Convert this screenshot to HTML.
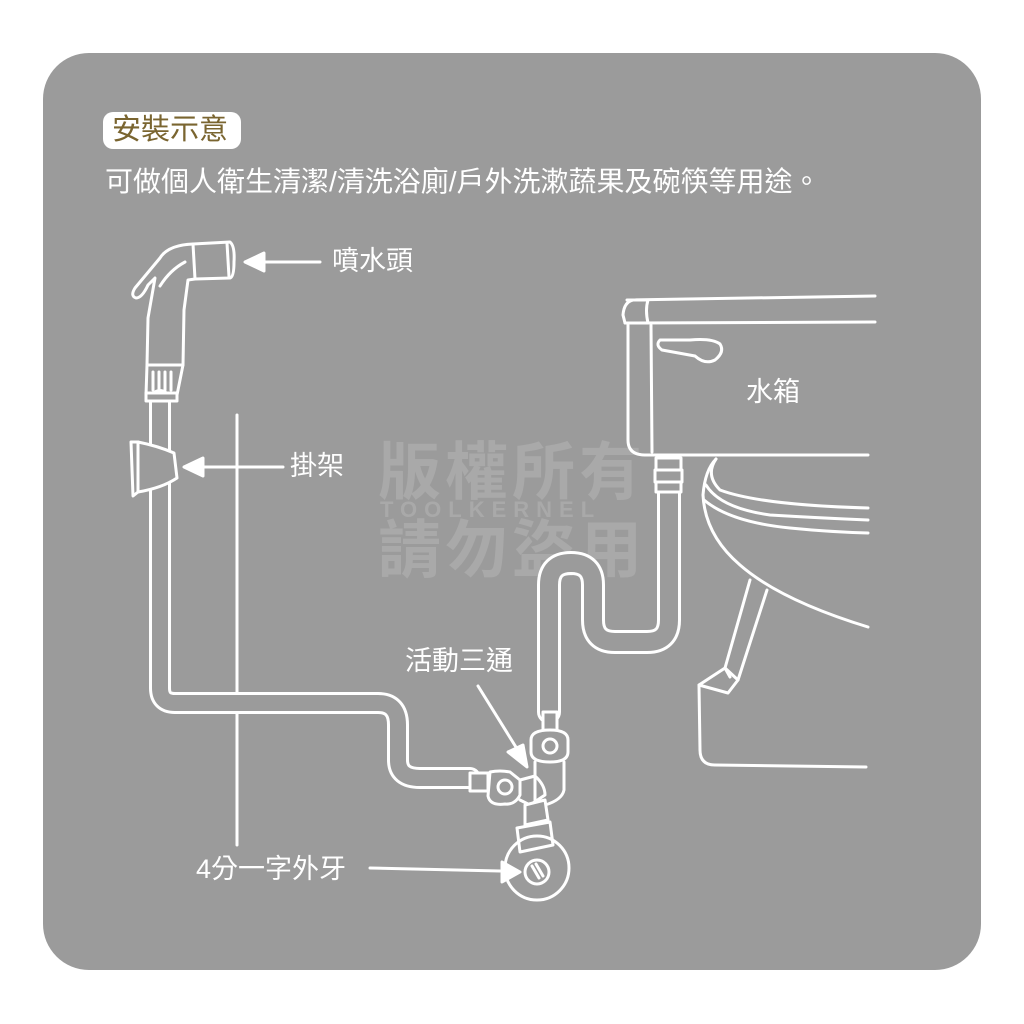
<!DOCTYPE html>
<html><head><meta charset="utf-8"><style>
html,body{margin:0;padding:0;background:#fff;}
body{width:1024px;height:1024px;position:relative;overflow:hidden;font-family:"Liberation Sans","Noto Sans CJK TC",sans-serif;}
.bg{position:absolute;left:43px;top:53px;width:938px;height:917px;border-radius:46px;background:#9b9b9b;}
.t{position:absolute;white-space:nowrap;color:#fff;}
</style></head><body>
<div class="bg"></div>
<div style="position:absolute;left:103px;top:112px;width:138px;height:37px;border-radius:10px;background:#fff;"></div>
<div class="t" style="left:112px;top:112px;font-size:29px;color:#7a6530;line-height:36px;">安裝示意</div>
<div class="t" style="left:105px;top:164px;font-size:28px;line-height:36px;">可做個人衛生清潔/清洗浴廁/戶外洗漱蔬果及碗筷等用途。</div>
<div class="t" style="left:378px;top:440px;font-size:63px;font-weight:bold;color:#a9a9a9;letter-spacing:4px;line-height:66px;">版權所有</div>
<div class="t" style="left:380px;top:498px;font-size:22px;font-weight:bold;color:#a9a9a9;letter-spacing:7px;line-height:24px;">TOOLKERNEL</div>
<div class="t" style="left:378px;top:518px;font-size:63px;font-weight:bold;color:#a9a9a9;letter-spacing:4px;line-height:66px;">請勿盜用</div>
<svg width="1024" height="1024" style="position:absolute;left:0;top:0" fill="none" stroke="#fff" stroke-width="3" stroke-linecap="round" stroke-linejoin="round">
<line x1="237" y1="415" x2="237" y2="845"/>
<path d="M160 400 L160 688 Q160 703 175 703 L378 703 Q398 703 398 725 L398 760 Q398 778 420 778 L470 778" stroke-width="22"/>
<path d="M160 400 L160 688 Q160 703 175 703 L378 703 Q398 703 398 725 L398 760 Q398 778 420 778 L470 778" stroke="#9b9b9b" stroke-width="16"/>
<path d="M549 712 L549 585 Q549 563 571 563 Q593 563 593 585 L593 620 Q593 642 615 642 L647 642 Q669 642 669 620 L669 490" stroke-width="24"/>
<path d="M549 712 L549 585 Q549 563 571 563 Q593 563 593 585 L593 620 Q593 642 615 642 L647 642 Q669 642 669 620 L669 490" stroke="#9b9b9b" stroke-width="18"/>
<rect x="656" y="458" width="25" height="12" fill="#9b9b9b"/>
<rect x="655" y="470" width="27" height="12" fill="#9b9b9b"/>
<rect x="656" y="482" width="25" height="10" fill="#9b9b9b"/>
<path d="M193 244 L230 242 Q235 246 234 262 Q234 277 230 278 L195 279"/>
<line x1="227" y1="243" x2="229" y2="277"/>
<path d="M193 244 Q168 245 160 258 L135 288 Q130 296 136 298 Q142 298 148 285 L155 278 L148 318 L147 365 L183 365 L184 310 L188 280 L195 279 Z"/>
<path d="M160 286 Q170 270 185 262"/>
<path d="M147 365 L146 395 L177 395 L183 365"/>
<line x1="153" y1="372" x2="153" y2="390"/><line x1="159" y1="372" x2="159" y2="390"/><line x1="165" y1="372" x2="165" y2="390"/><line x1="171" y1="372" x2="171" y2="390"/>
<rect x="146" y="393" width="31" height="8" fill="#9b9b9b"/>
<path d="M131 442 L138 442 Q158 446 174 453 L177 478 Q162 488 138 492 L133 496 Z" fill="#9b9b9b"/>
<line x1="138" y1="442" x2="138" y2="492"/>
<line x1="262" y1="262" x2="320" y2="262"/><path d="M245 262 L264 253 L264 271 Z" fill="#fff"/>
<line x1="200" y1="467" x2="283" y2="467"/><path d="M184 467 L203 458 L203 476 Z" fill="#fff"/>
<line x1="478" y1="686" x2="519" y2="752"/><path d="M527 767 L508 752 L523 745 Z" fill="#fff"/>
<line x1="370" y1="868" x2="500" y2="871"/><path d="M520 872 L502 862 L502 882 Z" fill="#fff"/>
<rect x="543" y="712" width="14" height="20" fill="#9b9b9b"/>
<path d="M531 740 Q531 730 550 730 Q568 730 568 740 L568 752 Q568 762 550 762 Q531 762 531 752 Z" fill="#9b9b9b"/>
<circle cx="550" cy="746" r="7"/>
<path d="M535 762 L535 800 Q535 808 545 805 Q562 800 564 790 L564 762"/>
<path d="M490 772 Q500 770 510 772 L520 780 L520 795 Q515 805 505 804 Q490 806 488 796 Z" fill="#9b9b9b"/>
<circle cx="505" cy="787" r="7"/>
<rect x="470" y="773" width="18" height="18" fill="#9b9b9b"/>
<path d="M520 780 L535 776 Q545 785 545 795 L530 805 L520 800"/>
<path d="M525 805 L545 800 L548 820 L525 825 Z" fill="#9b9b9b"/>
<path d="M517 828 L550 822 L553 845 L520 852 Z" fill="#9b9b9b"/>
<circle cx="537" cy="868" r="32"/>
<circle cx="537" cy="872" r="12"/>
<line x1="532" y1="866" x2="539" y2="878"/><line x1="536" y1="864" x2="543" y2="876"/>
<path d="M627 300 L875 296"/>
<path d="M625 323 L875 322"/>
<path d="M648 300 L633 300 Q624 302 623 315 L625 323 L648 323 Q645 310 648 300 Z"/>
<path d="M628 325 L628 440 Q628 455 645 455 L868 455"/>
<line x1="651" y1="325" x2="652" y2="452"/>
<path d="M660 340 Q655 345 662 350 L695 356 Q705 365 715 360 Q725 352 720 344 Q712 338 690 340 Z"/>
<path d="M716 459 Q705 470 703 495 Q705 535 740 565 Q780 600 868 627"/>
<path d="M716 459 Q705 475 720 490 Q760 505 868 508"/>
<path d="M706 485 Q720 508 770 515 Q820 518 868 520"/>
<path d="M704 500 Q730 522 790 528 Q830 532 868 533"/>
<path d="M750 580 L725 668 L730 677 M767 590 L738 680"/>
<path d="M699 685 L725 668 L738 680 L728 693 Z"/>
<path d="M699 685 L700 750 Q700 765 715 765 L866 767"/>
</svg>
<div class="t" style="left:332px;top:245px;font-size:27px;line-height:32px;">噴水頭</div>
<div class="t" style="left:290px;top:450px;font-size:27px;line-height:32px;">掛架</div>
<div class="t" style="left:746px;top:376px;font-size:27px;line-height:32px;">水箱</div>
<div class="t" style="left:405px;top:645px;font-size:27px;line-height:32px;">活動三通</div>
<div class="t" style="left:196px;top:853px;font-size:27px;line-height:32px;">4分一字外牙</div>
</body></html>
